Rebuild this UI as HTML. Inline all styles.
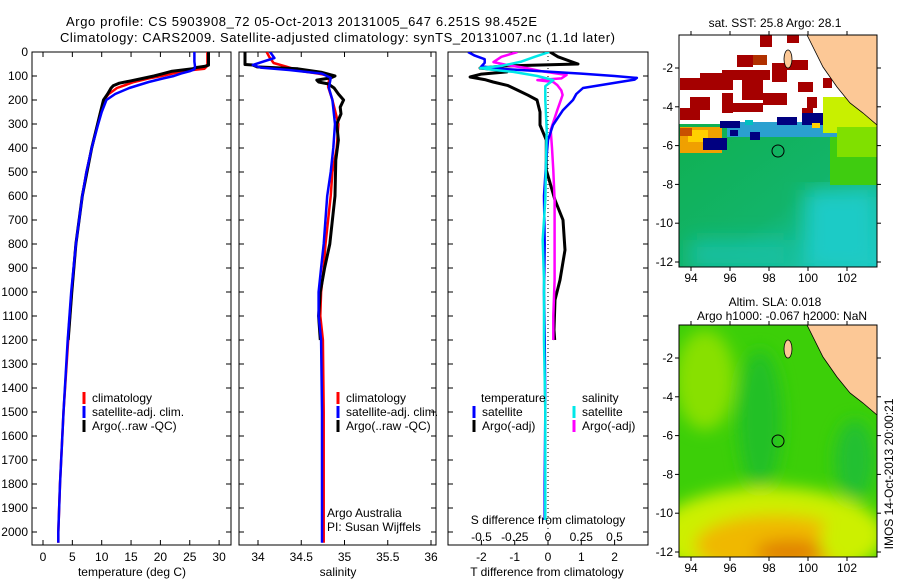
<!DOCTYPE html>
<html><head><meta charset="utf-8"><style>
html,body{margin:0;padding:0;background:#fff;}
svg{display:block;font-family:"Liberation Sans",sans-serif;}
</style></head><body>
<svg id="fig" width="900" height="580" viewBox="0 0 900 580" xmlns="http://www.w3.org/2000/svg">
<defs>
<clipPath id="cp1"><rect x="32" y="52" width="199" height="493"/></clipPath>
<clipPath id="cp2"><rect x="239" y="52" width="197" height="493"/></clipPath>
<clipPath id="cp3"><rect x="448" y="52" width="200" height="493"/></clipPath>
<clipPath id="cm1"><rect x="679" y="35" width="198" height="232"/></clipPath>
<clipPath id="cm2"><rect x="679" y="325" width="198" height="232"/></clipPath>
<linearGradient id="sstg" x1="0" y1="0" x2="1" y2="1"><stop offset="0" stop-color="#10b050"/><stop offset="0.55" stop-color="#12b46a"/><stop offset="1" stop-color="#1cc8c0"/></linearGradient>
<linearGradient id="cyg" x1="0" y1="0" x2="0" y2="1"><stop offset="0" stop-color="#16bf90"/><stop offset="1" stop-color="#1ccbc6"/></linearGradient>
<filter id="blur"><feGaussianBlur stdDeviation="8"/></filter>
<filter id="blur2"><feGaussianBlur stdDeviation="10"/></filter>
</defs>
<text x="66" y="26" font-size="13" textLength="471">Argo profile: CS 5903908_72 05-Oct-2013 20131005_647 6.251S 98.452E</text>
<text x="60" y="42" font-size="13" textLength="555">Climatology: CARS2009. Satellite-adjusted climatology: synTS_20131007.nc (1.1d later)</text>
<g id="axes"></g>
<g id="series"></g>

<g>
<g clip-path="url(#cm1)">
<rect x="679" y="35" width="198" height="232" fill="#fff"/>
<rect x="679" y="124" width="198" height="143" fill="url(#sstg)"/>
<g filter="url(#blur2)">
<rect x="690" y="240" width="100" height="30" fill="#16c0a0"/>
<rect x="805" y="190" width="72" height="80" fill="#1ccbc6"/>
</g>
<rect x="830" y="135" width="47" height="50" fill="#3fcc10"/>
<g fill="#a50000">
<rect x="760" y="35" width="12" height="12"/><rect x="787" y="35" width="12" height="8"/>
<rect x="737" y="55" width="16" height="12"/><rect x="772" y="63" width="15" height="19"/>
<rect x="787" y="60" width="21" height="10"/><rect x="722" y="70" width="48" height="10"/>
<rect x="680" y="78" width="53" height="12"/><rect x="700" y="73" width="22" height="10"/>
<rect x="742" y="80" width="21" height="20"/><rect x="763" y="93" width="24" height="12"/>
<rect x="722" y="93" width="11" height="20"/><rect x="690" y="97" width="20" height="13"/>
<rect x="680" y="108" width="20" height="12"/><rect x="733" y="103" width="30" height="9"/>
<rect x="798" y="82" width="15" height="10"/><rect x="807" y="97" width="10" height="11"/>
<rect x="802" y="108" width="11" height="10"/><rect x="823" y="78" width="9" height="10"/>
</g>
<rect x="753" y="55" width="14" height="10" fill="#b03000"/>
<rect x="727" y="122" width="110" height="15" fill="#2aa0d0"/>
<rect x="680" y="127" width="42" height="26" fill="#f0a000"/>
<rect x="688" y="130" width="20" height="12" fill="#ffd000"/>
<rect x="680" y="128" width="12" height="8" fill="#c85000"/>
<rect x="823" y="97" width="54" height="36" fill="#c8f000"/>
<rect x="837" y="127" width="40" height="30" fill="#80e000"/>
<g fill="#000080">
<rect x="720" y="121" width="20" height="7"/><rect x="777" y="117" width="20" height="8"/>
<rect x="703" y="138" width="24" height="12"/><rect x="750" y="132" width="10" height="8"/>
<rect x="802" y="113" width="21" height="12"/><rect x="730" y="130" width="8" height="6"/>
</g>
<rect x="745" y="120" width="8" height="5" fill="#00c0c0"/>
<rect x="812" y="123" width="8" height="5" fill="#ffd000"/>
<polygon points="807,35 823,67 837,87 850,103 863,113 877,125 877,35" fill="#fcc896" stroke="#000" stroke-width="0.8"/>
<ellipse cx="788" cy="59" rx="4" ry="9" fill="#fcc896" stroke="#000" stroke-width="0.8"/>
</g>
<rect x="679" y="35" width="198" height="232" fill="none" stroke="#000"/>
<circle cx="778" cy="151" r="6" fill="none" stroke="#000"/>
<text x="775" y="27" font-size="12" text-anchor="middle">sat. SST: 25.8 Argo: 28.1</text>
</g>

<g>
<g clip-path="url(#cm2)">
<rect x="679" y="325" width="198" height="232" fill="#3ccf08"/>
<g filter="url(#blur)">
<ellipse cx="705" cy="380" rx="30" ry="50" fill="#88e000"/>
<ellipse cx="760" cy="420" rx="22" ry="70" fill="#22c028"/>
<ellipse cx="855" cy="460" rx="20" ry="40" fill="#20c030"/>
<ellipse cx="770" cy="535" rx="115" ry="48" fill="#ccf000"/>
<ellipse cx="775" cy="545" rx="80" ry="30" fill="#f0b800"/>
<ellipse cx="790" cy="552" rx="35" ry="12" fill="#e08000"/>
<ellipse cx="845" cy="540" rx="25" ry="25" fill="#ccf000"/>
</g>
<polygon points="807,325 823,357 837,377 850,393 863,403 877,415 877,325" fill="#fcc896" stroke="#000" stroke-width="0.8"/>
<ellipse cx="788" cy="349" rx="4" ry="9" fill="#fcc896" stroke="#000" stroke-width="0.8"/>
</g>
<rect x="679" y="325" width="198" height="232" fill="none" stroke="#000"/>
<circle cx="778" cy="441" r="6" fill="none" stroke="#000"/>
<text x="775" y="306" font-size="12" text-anchor="middle">Altim. SLA: 0.018</text>
<text x="782" y="320" font-size="12" text-anchor="middle">Argo h1000: -0.067 h2000: NaN</text>
</g>
<text x="0" y="0" font-size="12" text-anchor="middle" transform="translate(893,474) rotate(-90)">IMOS 14-Oct-2013 20:00:21</text>
</svg>
<script>
const climTDepth=[0,50,60,70,75,80,90,100,110,125,150,175,200,250,300,400,500,600,800,1000,1200,1500,1800,2000,2045];
const climTVal=[28.0,28.0,27.9,27.5,25.5,24,22,20.2,18,15.5,12.6,11.2,10.4,9.8,9.3,8.3,7.4,6.7,5.6,4.9,4.3,3.5,2.9,2.6,2.6];
const satTDepth=[0,20,40,60,72,80,90,100,110,125,150,175,200,250,300,400,500,600,800,1000,1200,1500,1800,2000,2045];
const satTVal=[25.8,25.8,25.8,25.9,25.8,25,23.5,22.3,20.5,18,14.7,12.3,10.8,10,9.4,8.3,7.4,6.7,5.6,4.8,4.2,3.5,2.9,2.6,2.6];
const argoTDepth=[0,55,60,65,70,80,90,100,110,120,130,140,150,175,200,250,300,400,500,600,800,1000,1100,1200];
const argoTVal=[28.2,28.2,27.5,26,25.5,22,20.5,18.9,17,15,13,12,11.6,11,10.3,9.8,9.3,8.3,7.5,6.7,5.6,4.9,4.6,4.3];
const climSDepth=[0,20,46,60,79,90,100,120,145,200,300,400,500,600,800,900,1000,1100,1200,1500,2000,2045];
const climSVal=[34.10,34.13,34.18,34.32,34.49,34.70,34.84,34.82,34.81,34.86,34.93,34.91,34.86,34.84,34.78,34.76,34.73,34.72,34.75,34.76,34.76,34.76];
const satSDepth=[0,25,54,65,75,90,108,150,200,300,400,500,600,800,900,1000,1100,1200,1500,2000,2045];
const satSVal=[34.14,34.19,33.94,34.03,34.36,34.74,34.84,34.82,34.86,34.89,34.87,34.84,34.80,34.76,34.73,34.70,34.70,34.73,34.74,34.74,34.74];
const argoSDepth=[0,52,54,62,70,85,100,108,117,125,133,150,175,200,230,258,300,367,450,600,800,900,1000,1100,1200];
const argoSVal=[33.85,33.85,33.94,33.99,34.46,34.74,34.89,34.84,34.68,34.70,34.81,34.88,34.93,34.99,34.95,34.96,34.91,34.93,34.90,34.89,34.83,34.77,34.72,34.70,34.72];
const dTSatDepth=[0,15,30,45,60,70,80,90,100,108,115,125,150,175,200,242,304,367,450,600,800,1000,1200,1500,1800,1950];
const dTSatVal=[-2.4,-2.2,-1.9,-1.9,-2.0,-1.4,-0.2,1.0,2.0,2.67,2.6,2.16,1.05,0.85,0.75,0.45,0.15,0.0,-0.05,-0.12,-0.1,-0.12,-0.1,-0.08,-0.1,-0.1];
const dTArgoDepth=[0,20,40,50,58,67,75,83,92,104,115,125,140,158,180,200,250,304,367,492,617,700,825,950,1033,1158,1200];
const dTArgoVal=[0.06,0.3,0.7,0.9,-1.3,-2.04,-1.4,-1.23,-2.0,-2.34,-1.9,-1.65,-1.2,-0.93,-0.6,-0.33,-0.24,-0.24,-0.05,-0.05,0.21,0.45,0.51,0.36,0.21,0.18,0.2];
const dSArgoDepth=[0,20,42,55,67,80,96,110,117,125,138,160,179,210,242,325,400,492,617,783,950,1100,1200];
const dSArgoVal=[-0.23,-0.35,-0.41,-0.3,-0.16,-0.05,0.14,0.1,-0.08,0.04,0.07,0.1,0.11,0.09,0.07,0.02,0.03,0.04,0.05,0.05,0.05,0.04,0.04];
const dSSatDepth=[0,20,40,58,67,75,83,100,117,142,200,325,617,783,950,1200,1500,1800,1950];
const dSSatVal=[0.01,-0.1,-0.2,-0.35,-0.51,-0.4,-0.26,-0.08,0.04,-0.02,-0.02,-0.01,-0.02,-0.04,-0.03,-0.03,-0.02,-0.02,-0.02];
const depthTicks=[0,100,200,300,400,500,600,700,800,900,1000,1100,1200,1300,1400,1500,1600,1700,1800,1900,2000];
const tempTicks=[0,5,10,15,20,25,30];
const salTicks=[34,34.5,35,35.5,36];
const salTickLabels=["34","34.5","35","35.5","36"];
const dTTicks=[-2,-1,0,1,2];
const dSTicks=[-0.5,-0.25,0,0.25,0.5];
const dSTickLabels=["-0.5","-0.25","0","0.25","0.5"];
const latTicks=[-2,-4,-6,-8,-10,-12];
const lonTicks=[94,96,98,100,102];

const NS="http://www.w3.org/2000/svg";
const yD=d=>52+d*0.24;
const xT=t=>43+t*5.87;
const xS=s=>258+(s-34)*86.5;
const xdT=v=>548+v*33.3;
const xdS=v=>548+v*133;
const xLon=l=>691+(l-94)*19.5;
const yLat1=l=>68+(-2-l)*19.4;
const yLat2=l=>358+(-2-l)*19.4;
const axes=document.getElementById('axes');
const series=document.getElementById('series');
function mk(tag,attrs,parent){const e=document.createElementNS(NS,tag);for(const k in attrs)e.setAttribute(k,attrs[k]);parent.appendChild(e);return e;}
function txt(s,x,y,anchor,parent,size){const t=mk('text',{x:x,y:y,'font-size':size||12,'text-anchor':anchor||'start'},parent);t.textContent=s;return t;}

const panels=[{x0:32,x1:231,name:'temperature-panel'},{x0:239,x1:436,name:'salinity-panel'},{x0:448,x1:648,name:'difference-panel'}];
panels.forEach(p=>{
  const r=mk('rect',{x:p.x0,y:52,width:p.x1-p.x0,height:493,fill:'none',stroke:'#000'},axes);
  
  
  depthTicks.forEach(d=>{
    mk('line',{x1:p.x0,x2:p.x0+5,y1:yD(d),y2:yD(d),stroke:'#000'},axes);
    mk('line',{x1:p.x1-5,x2:p.x1,y1:yD(d),y2:yD(d),stroke:'#000'},axes);
  });
});
depthTicks.forEach(d=>{
  const t=txt(String(d),28,yD(d)+4,'end',axes);
  
  
});
tempTicks.forEach(v=>{
  mk('line',{x1:xT(v),x2:xT(v),y1:540,y2:545,stroke:'#000'},axes);
  mk('line',{x1:xT(v),x2:xT(v),y1:52,y2:57,stroke:'#000'},axes);
  const t=txt(String(v),xT(v),561,'middle',axes);
  
  
});
salTicks.forEach((v,i)=>{
  mk('line',{x1:xS(v),x2:xS(v),y1:540,y2:545,stroke:'#000'},axes);
  mk('line',{x1:xS(v),x2:xS(v),y1:52,y2:57,stroke:'#000'},axes);
  const t=txt(salTickLabels[i],xS(v),561,'middle',axes);
  
  
});
dTTicks.forEach(v=>{
  mk('line',{x1:xdT(v),x2:xdT(v),y1:540,y2:545,stroke:'#000'},axes);
  const t=txt(String(v),xdT(v),561,'middle',axes);
  
  
});
dSTicks.forEach((v,i)=>{
  const t=txt(dSTickLabels[i],xdS(v),541,'middle',axes);
  
  
});
let t;
t=txt('temperature (deg C)',132,576,'middle',axes);


t=txt('salinity',338,576,'middle',axes);


t=txt('T difference from climatology',547,576,'middle',axes);


t=txt('S difference from climatology',548,524,'middle',axes);


t=txt('Argo Australia',327,517,'start',axes);


t=txt('PI: Susan Wijffels',327,531,'start',axes);


const z=mk('line',{x1:548,x2:548,y1:52,y2:545,stroke:'#000','stroke-dasharray':'1,3'},axes);



[[yLat1,35,267],[yLat2,325,557]].forEach(([yf,top,bot])=>{
  latTicks.forEach(l=>{
    mk('line',{x1:675,x2:679,y1:yf(l),y2:yf(l),stroke:'#000'},axes);
    mk('line',{x1:877,x2:881,y1:yf(l),y2:yf(l),stroke:'#000'},axes);
    const tl=txt(String(l),673,yf(l)+4,'end',axes);
    
    
  });
  lonTicks.forEach(l=>{
    mk('line',{x1:xLon(l),x2:xLon(l),y1:top-4,y2:top,stroke:'#000'},axes);
    mk('line',{x1:xLon(l),x2:xLon(l),y1:bot,y2:bot+4,stroke:'#000'},axes);
    const tl=txt(String(l),xLon(l),bot+15,'middle',axes);
    
    
  });
});

function line(depths,vals,xf,color,w,clip,name){
  const pts=depths.map((d,i)=>xf(vals[i]).toFixed(1)+','+yD(d).toFixed(1)).join(' ');
  const pl=mk('polyline',{points:pts,fill:'none',stroke:color,'stroke-width':w,'clip-path':'url(#'+clip+')','stroke-linejoin':'round'},series);
  
  
}
line(climTDepth,climTVal,xT,'#ff0000',2.5,'cp1','climatology-temperature-line');
line(argoTDepth,argoTVal,xT,'#000',3,'cp1','argo-temperature-line');
line(satTDepth,satTVal,xT,'#0000ff',2.5,'cp1','satellite-temperature-line');
line(climSDepth,climSVal,xS,'#ff0000',2.5,'cp2','climatology-salinity-line');
line(argoSDepth,argoSVal,xS,'#000',3,'cp2','argo-salinity-line');
line(satSDepth,satSVal,xS,'#0000ff',2.5,'cp2','satellite-salinity-line');
line(dTArgoDepth,dTArgoVal,xdT,'#000',3,'cp3','argo-t-difference-line');
line(dSArgoDepth,dSArgoVal,xdS,'#ff00ff',2.5,'cp3','argo-s-difference-line');
line(dTSatDepth,dTSatVal,xdT,'#0000ff',2.5,'cp3','satellite-t-difference-line');
line(dSSatDepth,dSSatVal,xdS,'#00e8e8',2.5,'cp3','satellite-s-difference-line');

function legend(x,y,color,label){
  const b=mk('rect',{x:x-1.5,y:y-6,width:3,height:12,fill:color},series);
  
  
  const tt=txt(label,x+8,y+4,'start',series);
  
  
}
legend(84,398,'#ff0000','climatology');
legend(84,412,'#0000ff','satellite-adj. clim.');
legend(84,426,'#000','Argo(..raw -QC)');
legend(338,398,'#ff0000','climatology');
legend(338,412,'#0000ff','satellite-adj. clim.');
legend(338,426,'#000','Argo(..raw -QC)');
t=txt('temperature',481,402,'start',series);


t=txt('salinity',582,402,'start',series);


legend(474,412,'#0000ff','satellite');
legend(474,426,'#000','Argo(-adj)');
legend(574,412,'#00e8e8','satellite');
legend(574,426,'#ff00ff','Argo(-adj)');
</script>
</body></html>
